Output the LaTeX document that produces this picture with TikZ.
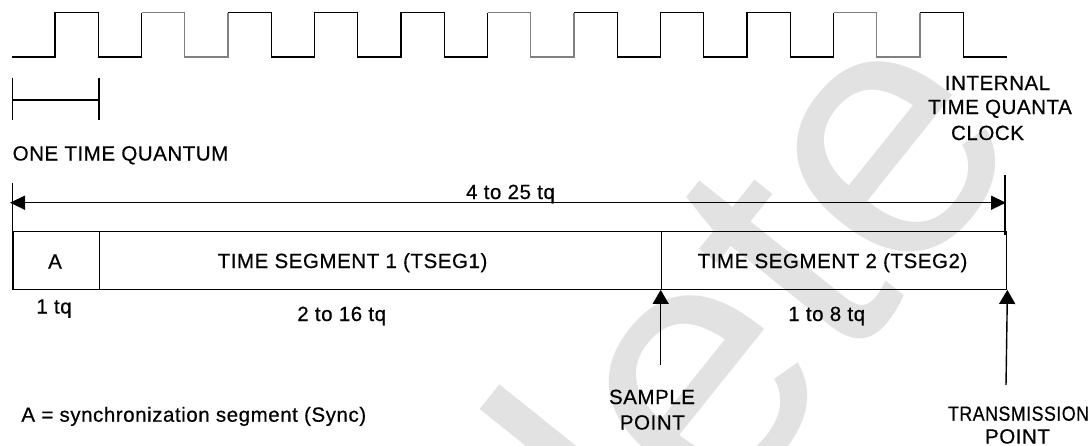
\documentclass[tikz,border=0pt]{standalone}
\usepackage{fontspec}
\setmainfont{Liberation Sans}
\newfontfamily\lblfont[LetterSpace=2.7,FakeBold=0.5]{Liberation Sans}
\newfontfamily\wmfont{Liberation Sans}
\usetikzlibrary{arrows.meta}
\definecolor{wavegray}{RGB}{128,128,128}
\definecolor{wmgray}{RGB}{226,226,226}
\begin{document}
\begin{tikzpicture}[x=1pt,y=-1pt, line width=1.4pt,
  lbl/.style={font=\lblfont\fontsize{20.5}{24}\selectfont, inner sep=0pt, anchor=base},
  lblw/.style={lbl, anchor=base west},
  seg/.style={draw, line width=1.4pt, minimum height=57.5pt, inner sep=0pt, anchor=north west},
  wave/.style={line width=1.4pt, line join=miter},
  graywave/.style={wave, draw=wavegray},
  tip/.style={-{Triangle[length=14pt,width=16pt]}},
  dimarrow/.style={{Triangle[length=15pt,width=14pt]}-{Triangle[length=15pt,width=14pt]}},
  watermark/.style={font=\wmfont\fontsize{360}{360}\selectfont, text=wmgray, inner sep=0pt, rotate=51.3}
]
\useasboundingbox (0,0) rectangle (1091,445);
\clip (0,0) rectangle (1091,445);
\fill[white] (0,0) rectangle (1091,445);

% watermark
\node[watermark] (wm) at (481,620) {Obsolete};

% clock waveform
\draw[wave] (12,57) -- (55,57) -- (55,12.5) -- (98.25,12.5) -- (98.25,57) -- (141.5,57) -- (141.5,12.5);
\draw[graywave] (141.5,12.5) -- (184.75,12.5) -- (184.75,57) -- (228,57) -- (228,12.5);
\draw[wave] (228,12.5) -- (271.25,12.5) -- (271.25,57) -- (314.5,57) -- (314.5,12.5) -- (357.75,12.5) -- (357.75,57) -- (401,57) -- (401,12.5) -- (444.25,12.5) -- (444.25,57) -- (487.5,57) -- (487.5,12.5);
\draw[graywave] (487.5,12.5) -- (530.75,12.5) -- (530.75,57) -- (574,57) -- (574,12.5);
\draw[wave] (574,12.5) -- (617.25,12.5) -- (617.25,57) -- (660.5,57) -- (660.5,12.5) -- (703.75,12.5) -- (703.75,57) -- (747,57) -- (747,12.5) -- (790.25,12.5) -- (790.25,57) -- (833.5,57) -- (833.5,12.5);
\draw[graywave] (833.5,12.5) -- (876.75,12.5) -- (876.75,57) -- (920,57) -- (920,12.5);
\draw[wave] (920,12.5) -- (963.25,12.5) -- (963.25,57) -- (1006.7,57);

% one time quantum bracket
\coordinate (q1t) at (12.3,77.7);
\coordinate (q1b) at (12.3,120);
\coordinate (q2t) at (99,77.7);
\coordinate (q2b) at (99,120);
\coordinate (q1m) at (12.3,100);
\coordinate (q2m) at (99,100);
\draw (q1t) -- (q1b);
\draw (q2t) -- (q2b);
\draw (q1m) -- (q2m);
\node[lblw] (oneq) at (12,160.5) {ONE TIME QUANTUM};

% clock label
\node[lbl] (clk1) at (997.5,90) {INTERNAL};
\node[lbl] (clk2) at (1000,114) {TIME QUANTA};
\node[lbl] (clk3) at (987.5,140) {CLOCK};

% segments
\node[seg, minimum width=86.7pt] (a) at (12.3,231) {};
\node[seg, minimum width=561.7pt] (t1) at (99,231) {};
\node[seg, minimum width=345.3pt] (t2) at (660.7,231) {};
\node[lbl] (atext) at (55,268.5) {A};
\node[lbl] (t1text) at (352.5,268) {TIME SEGMENT 1 (TSEG1)};
\node[lbl] (t2text) at (832.5,268) {TIME SEGMENT 2 (TSEG2)};

% overall dimension
\coordinate (tickL) at (12.3,183.3);
\coordinate (tickRt) at (1005,175);
\coordinate (tickRb) at (1005,235);
\coordinate (dimL) at (10,202.7);
\coordinate (dimR) at (1006,202.7);
\draw (tickL) -- (a.north west);
\draw (tickRt) -- (tickRb);
\draw[dimarrow] (dimL) -- (dimR);
\node[lbl] (total) at (510.5,199) {4 to 25 tq};

% durations
\node[lbl] (d1) at (54,313.5) {1 tq};
\node[lbl] (d2) at (341.7,321) {2 to 16 tq};
\node[lbl] (d3) at (826.7,321) {1 to 8 tq};

% sample and transmission points
\coordinate (spbot) at (660.7,365);
\coordinate (tpbot) at (1006,385);
\draw[tip] (spbot) -- (t2.south west);
\draw[tip] (tpbot) -- (t2.south east);
\node[lbl] (sp1) at (652,404) {SAMPLE};
\node[lbl] (sp2) at (652.3,429.5) {POINT};
\node[lbl, xscale=0.87] (tp1) at (1018.5,420.7) {TRANSMISSION};
\node[lbl] (tp2) at (1017.5,443.5) {POINT};

% legend
\node[lblw] (legend) at (20.7,421.7) {A = synchronization segment (Sync)};
\end{tikzpicture}
\end{document}
